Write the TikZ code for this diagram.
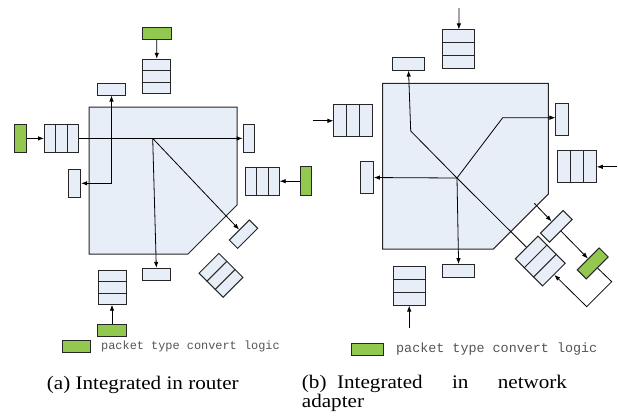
\documentclass[tikz,border=0pt]{standalone}
\usepackage{fontspec}
\setmainfont{Liberation Serif}
\setmonofont{Liberation Mono}
\usetikzlibrary{calc,arrows.meta}

\definecolor{boxblue}{RGB}{232,238,247}
\definecolor{convgreen}{RGB}{146,200,80}
\definecolor{keygray}{RGB}{85,85,85}

\tikzset{
  >={Latex[length=6pt,width=4.5pt]},
  box/.style={draw=black!85, line width=1pt, fill=boxblue, inner sep=0pt},
  conv/.style={draw=black!85, line width=1pt, fill=convgreen, inner sep=0pt},
  % router side (a)
  qa/.style={box, minimum width=34pt, minimum height=28pt},
  qva/.style={box, minimum width=28pt, minimum height=34pt},
  oa/.style={box, minimum width=28.4pt, minimum height=11.7pt},
  ova/.style={box, minimum width=11.7pt, minimum height=28.5pt},
  ga/.style={conv, minimum width=28.4pt, minimum height=11.7pt},
  gva/.style={conv, minimum width=11.7pt, minimum height=28.5pt},
  % network adapter side (b)
  qb/.style={box, minimum width=38.5pt, minimum height=32pt},
  qvb/.style={box, minimum width=32pt, minimum height=38.5pt},
  ob/.style={box, minimum width=32pt, minimum height=12.7pt},
  ovb/.style={box, minimum width=12.7pt, minimum height=31.7pt},
  gb/.style={conv, minimum width=31pt, minimum height=12.7pt},
  link/.style={->, line width=0.8pt},
  keytext/.style={anchor=west, inner sep=0pt, text=keygray},
  caption/.style={inner sep=0pt, xscale=1.1}
}

\begin{document}
\begin{tikzpicture}[x=1pt,y=-1pt]
\useasboundingbox (0,0) rectangle (618,416);

% routers
\filldraw[fill=boxblue, draw=black!85, line width=1pt] (89,107) -- (237,107) -- (237,205) -- (188,254) -- (89,254) -- cycle;
\filldraw[fill=boxblue, draw=black!85, line width=1pt] (382.7,83.3) -- (548.3,83.3) -- (548.3,194) -- (493.3,249) -- (382.7,249) -- cycle;

% (a) integrated in router
\node[ga] (gT) at (156.8,33.2) {};
\node[qva] (qT) at (156.7,76.3) {};
\node[oa] (oT) at (111.5,89.2) {};
\node[gva] (gL) at (20.8,138.4) {};
\node[qa] (qL) at (61.5,138.4) {};
\node[ova] (oR) at (249,138.4) {};
\node[ova] (oL) at (74.8,183.3) {};
\node[gva] (gR) at (306,181.2) {};
\node[qa] (qR) at (262.2,181.2) {};
\node[oa] (oD) at (156.5,274.2) {};
\node[oa, rotate=45] (oX) at (243.5,234.2) {};
\node[qa, rotate=-45] (qX) at (221,275.3) {};
\node[qva] (qB) at (112,287.2) {};
\node[ga] (gB) at (112,330.5) {};
\coordinate (cA) at (152.7,138.4);

\draw[link] (gT) -- (qT);
\draw[link] (gL) -- (qL);
\draw[link] (qL) -- (oR);
\draw[link] (gR) -- (qR);
\draw[link] (gB) -- (qB);
\draw[<->, line width=0.8pt] (oT) |- (oL);
\draw[link] (cA) -- (oD);
\draw[link] (cA) -- (oX);

% (b) integrated in network adapter
\node[qvb] (qTb) at (458.7,49.2) {};
\node[ob] (oTb) at (408.3,63.7) {};
\node[qb] (qLb) at (353.2,120.8) {};
\node[ovb] (oRb) at (562.3,119.2) {};
\node[qb] (qRb) at (577,166.8) {};
\node[ovb] (oLb) at (367,177.5) {};
\node[ob] (oDb) at (458.7,271) {};
\node[qvb] (qBb) at (409.2,285.8) {};
\node[qb, rotate=-45] (qXb) at (540.3,261) {};
\node[ob, rotate=45] (oXb) at (556.3,226.3) {};
\node[gb, rotate=45] (gXb) at (592.7,263.4) {};
\coordinate (cB) at (457,178);
\coordinate (inT) at (459,8);
\coordinate (inL) at (313,120.8);
\coordinate (inR) at (617,166.8);
\coordinate (inB) at (409.2,328.3);
\coordinate (b1) at (410.7,131);
\coordinate (b2) at (502.7,117.7);
\coordinate (pB) at (534.3,203.3);
\coordinate (f1) at (611.7,281.7);
\coordinate (f2) at (586.7,306.7);

\draw[link] (inT) -- (qTb);
\draw[link] (inL) -- (qLb);
\draw[link] (inR) -- (qRb);
\draw[link] (inB) -- (qBb);
\draw[link] (cB) -- (b1) -- (oTb);
\draw[link] (cB) -- (b2) -- (b2 -| oRb.west);
\draw[link] (cB) -- (oLb);
\draw[link] (cB) -- (oDb);
\draw[line width=0.8pt] (cB) -- (qXb);
\draw[link] (pB) -- (oXb);
\draw[link] (oXb) -- (gXb);
\draw[link] (gXb) -- (f1) -- (f2) -- (qXb);

% queue slots
\foreach \q in {qL,qR,qX,qLb,qRb,qXb}
  \draw[black!85, line width=1pt] ($(\q.north west)!1/3!(\q.north east)$) -- ($(\q.south west)!1/3!(\q.south east)$)
    ($(\q.north west)!2/3!(\q.north east)$) -- ($(\q.south west)!2/3!(\q.south east)$);
\foreach \q in {qT,qB,qTb,qBb}
  \draw[black!85, line width=1pt] ($(\q.north west)!1/3!(\q.south west)$) -- ($(\q.north east)!1/3!(\q.south east)$)
    ($(\q.north west)!2/3!(\q.south west)$) -- ($(\q.north east)!2/3!(\q.south east)$);

% keys
\node[ga] (keyA) at (76.5,346.3) {};
\node[keytext, font=\fontsize{11.9}{14}\ttfamily] (keyAtext) at (101,346.3) {packet type convert logic};
\node[gb, minimum width=32.3pt] (keyB) at (367.8,349.5) {};
\node[keytext, font=\fontsize{13.4}{16}\ttfamily] (keyBtext) at (396,349.3) {packet type convert logic};

% captions
\node[caption, anchor=base west, font=\fontsize{19.2}{19}\selectfont] (capA) at (46.7,389.3) {(a) Integrated in router};
\node[caption, anchor=base west, text width=241pt, align=justify, font=\fontsize{19.2}{19}\selectfont] (capB) at (301.7,388.3) {(b)\hspace{0.5em}Integrated in network\linebreak adapter};
\end{tikzpicture}
\end{document}
